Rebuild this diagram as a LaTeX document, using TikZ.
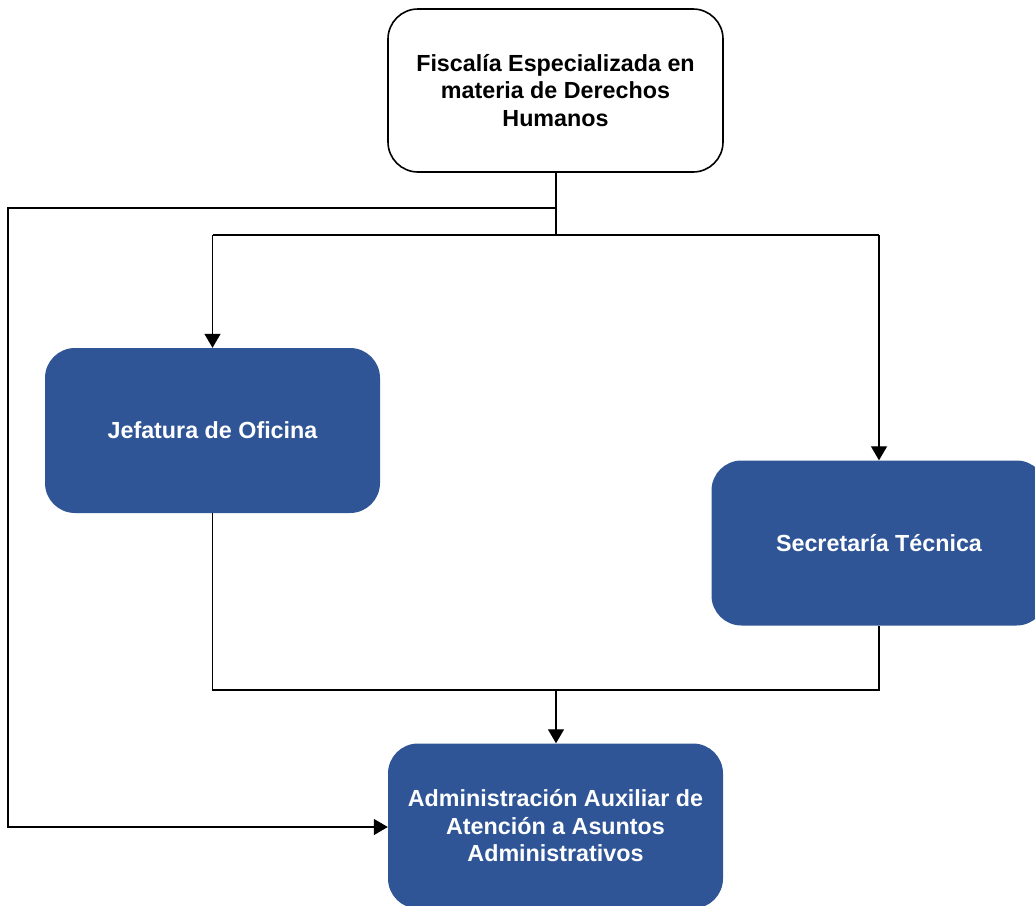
\documentclass[tikz,border=0pt]{standalone}
\usepackage{fontspec}
\setmainfont{Liberation Sans}
\usetikzlibrary{arrows.meta}
\definecolor{boxblue}{HTML}{2F5597}
\begin{document}
\begin{tikzpicture}[x=1pt,y=-1pt,
  base/.style={rounded corners=30pt, align=center, font=\fontsize{23.3}{27.5}\selectfont\bfseries, inner sep=0pt},
  topbox/.style={base, draw=black, line width=1.6pt, fill=white, minimum width=335pt, minimum height=163pt},
  bluebox/.style={base, fill=boxblue, text=white, minimum width=335pt, minimum height=165pt},
  conn/.style={draw=black, line width=1.3pt},
  arr/.style={conn, -{Triangle[length=14pt,width=16pt]}}]
\useasboundingbox (0,0) rectangle (1035,905);
\clip (0,0) rectangle (1035,905);
\node[topbox] (top) at (555.5,90.5) {Fiscalía Especializada en\\materia de Derechos\\Humanos};
\node[bluebox] (jef) at (212.5,430.5) {Jefatura de Oficina};
\node[bluebox] (sec) at (879,543) {Secretaría Técnica};
\node[bluebox] (adm) at (555.5,826) {Administración Auxiliar de\\Atención a Asuntos\\Administrativos};
\coordinate (s1) at (556,208);
\coordinate (s2) at (556,235);
\coordinate (l1) at (8,208);
\coordinate (l2) at (8,827);
\coordinate (h1) at (212.5,235);
\coordinate (h2) at (879,235);
\coordinate (b1) at (212.5,690);
\coordinate (b2) at (879,690);
\coordinate (b3) at (556,690);
\draw[conn] (top.south -| s1) -- (s2);
\draw[conn] (h1) -- (h2);
\draw[arr] (h1) -- (jef.north);
\draw[arr] (h2) -- (sec.north);
\draw[arr] (s1) -- (l1) -- (l2) -- (l2 -| adm.west);
\draw[conn] (jef.south) -- (b1) -- (b2) -- (sec.south);
\draw[arr] (b3) -- (b3 |- adm.north);
\end{tikzpicture}
\end{document}
